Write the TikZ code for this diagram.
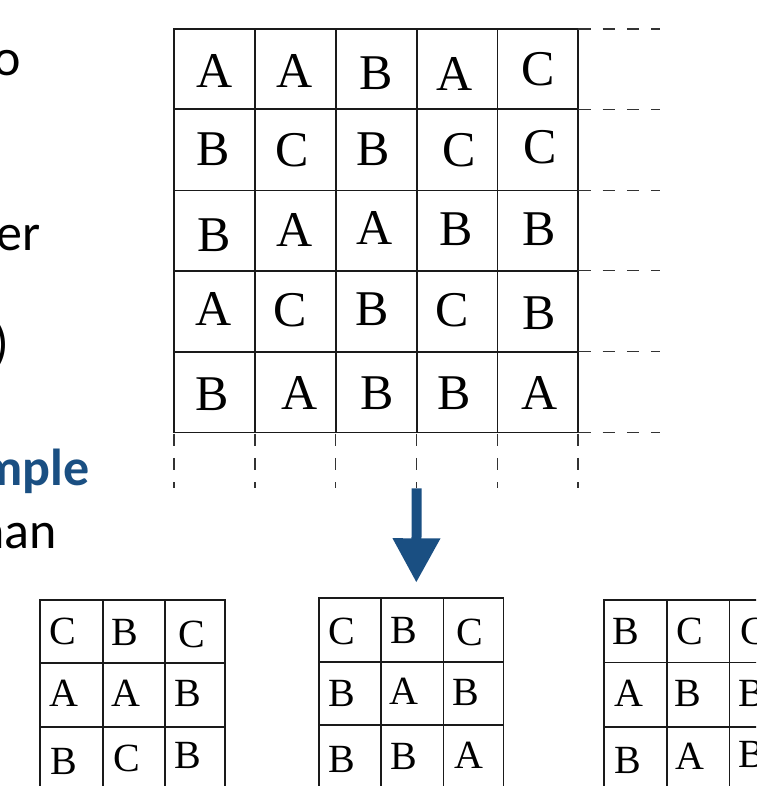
\documentclass[tikz,border=0pt]{standalone}
\usepackage{fontspec}
\setmainfont{Carlito}
\newfontfamily\cellfont{Liberation Serif}
\usetikzlibrary{arrows.meta}
\definecolor{slideblue}{HTML}{1A4F82}
\definecolor{gridink}{HTML}{1A1A1A}
\definecolor{dashink}{HTML}{333333}
\tikzset{
  gridline/.style={draw=gridink, line width=1.6pt, line cap=rect},
  extline/.style={draw=dashink, line width=1.4pt, dash pattern=on 12.5pt off 11.8pt},
  bigletter/.style={inner sep=0pt, font=\cellfont\fontsize{50}{50}\selectfont},
  smallletter/.style={inner sep=0pt, font=\cellfont\fontsize{40}{40}\selectfont},
  bodytext/.style={inner sep=0pt, anchor=base east, font=\fontsize{52}{62}\selectfont},
  boldtext/.style={bodytext, font=\fontsize{52}{62}\selectfont\bfseries, text=slideblue},
}
\begin{document}
\begin{tikzpicture}[x=1pt,y=-1pt]
\useasboundingbox (0,0) rectangle (756,786);
\clip (0,0) rectangle (756,786);

% text of the slide, running in from the left
\node[bodytext] (t1) at (21,76) {o};
\node[bodytext] (t2) at (41,250) {er};
\node[bodytext] (t3) at (9,360) {)};
\node[boldtext] (t4) at (90,485) {mple};
\node[bodytext] (t5) at (57,548) {nan};

% large 5x5 field
\foreach \x in {174,255,335.7,416.7,497.3,578}
  \draw[gridline] (\x,29) -- (\x,432.3);
\foreach \y in {29,109.3,190.7,270.7,351.7,432.3}
  \draw[gridline] (174,\y) -- (578,\y);
% field continues beyond its edges
\foreach \y in {29,109.3,190.7,270.7,351.7,432.3}
  \draw[extline] (578.3,\y) -- (660,\y);
\foreach \x in {174,255,335.7,416.7,497.3,578}
  \draw[extline] (\x,433.5) -- (\x,487.5);

\node[bigletter] (b11) at (215,70.7) {A};
\node[bigletter] (b12) at (295,70.7) {A};
\node[bigletter] (b13) at (376,73.5) {B};
\node[bigletter] (b14) at (454.7,73.7) {A};
\node[bigletter] (b15) at (538,69) {C};
\node[bigletter] (b21) at (213,149.7) {B};
\node[bigletter] (b22) at (291.7,149.7) {C};
\node[bigletter] (b23) at (373,149.3) {B};
\node[bigletter] (b24) at (458.7,150.3) {C};
\node[bigletter] (b25) at (540,147.5) {C};
\node[bigletter] (b31) at (214,235.5) {B};
\node[bigletter] (b32) at (295,230) {A};
\node[bigletter] (b33) at (375,228) {A};
\node[bigletter] (b34) at (455.7,229.5) {B};
\node[bigletter] (b35) at (539,229.5) {B};
\node[bigletter] (b41) at (214,309.3) {A};
\node[bigletter] (b42) at (290,310.3) {C};
\node[bigletter] (b43) at (372.5,309.7) {B};
\node[bigletter] (b44) at (451.7,310) {C};
\node[bigletter] (b45) at (539,313.3) {B};
\node[bigletter] (b51) at (212.5,394.5) {B};
\node[bigletter] (b52) at (300,392.7) {A};
\node[bigletter] (b53) at (376.7,393.7) {B};
\node[bigletter] (b54) at (454.5,393) {B};
\node[bigletter] (b55) at (540,392.7) {A};

% downward block arrow
\coordinate (arrowtail) at (416.7,488.3);
\coordinate (arrowtip) at (416.3,582.7);
\draw[slideblue, line width=10pt, -{Triangle[length=44.4pt,width=45pt]}] (arrowtail) -- (arrowtip);

% three small 3x3 windows
\foreach \x in {40,102.7,165,225}
  \draw[gridline] (\x,600) -- (\x,800);
\foreach \y in {600,662.7,726.7}
  \draw[gridline] (40,\y) -- (225,\y);
\foreach \x in {319.2,380.9,443.6,503.4}
  \draw[gridline] (\x,597.7) -- (\x,800);
\foreach \y in {597.7,661.7,725}
  \draw[gridline] (319.2,\y) -- (503.4,\y);
\foreach \x in {604,666.7,729.3,792}
  \draw[gridline] (\x,600) -- (\x,800);
\foreach \y in {600,662.3,726.7}
  \draw[gridline] (604,\y) -- (792,\y);

\node[smallletter] (l11) at (63.2,631.5) {C};
\node[smallletter] (l12) at (124.9,632) {B};
\node[smallletter] (l13) at (192,634) {C};
\node[smallletter] (l21) at (63.9,693.3) {A};
\node[smallletter] (l22) at (125.6,693.3) {A};
\node[smallletter] (l23) at (187.6,693) {B};
\node[smallletter] (l31) at (63.9,761.7) {B};
\node[smallletter] (l32) at (126.6,758.3) {C};
\node[smallletter] (l33) at (187.6,755.8) {B};

\node[smallletter] (m11) at (341.9,631.2) {C};
\node[smallletter] (m12) at (404.3,630.7) {B};
\node[smallletter] (m13) at (470.3,632) {C};
\node[smallletter] (m21) at (341.6,693) {B};
\node[smallletter] (m22) at (403.8,691) {A};
\node[smallletter] (m23) at (465.8,692) {B};
\node[smallletter] (m31) at (342,759.7) {B};
\node[smallletter] (m32) at (404.3,756.7) {B};
\node[smallletter] (m33) at (468.9,755.5) {A};

\node[smallletter] (r11) at (626.3,631.7) {B};
\node[smallletter] (r12) at (689.5,631.3) {C};
\node[smallletter] (r13) at (753.7,631) {C};
\node[smallletter] (r21) at (628.8,693.7) {A};
\node[smallletter] (r22) at (688,693) {B};
\node[smallletter] (r23) at (751.5,693) {B};
\node[smallletter] (r31) at (627.8,760) {B};
\node[smallletter] (r32) at (690.3,756.7) {A};
\node[smallletter] (r33) at (752,754) {B};
\end{tikzpicture}
\end{document}
